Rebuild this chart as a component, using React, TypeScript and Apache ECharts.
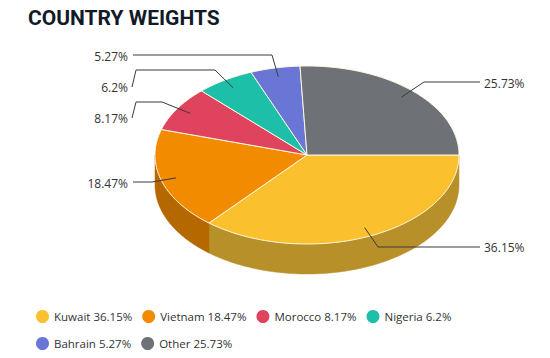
import React, { useEffect, useRef } from 'react';
import * as echarts from 'echarts';

// ---- data ----
const categories = ['Kuwait', 'Vietnam', 'Morocco', 'Nigeria', 'Bahrain', 'Other'];
const weights = [36.15, 18.47, 8.17, 6.2, 5.27, 25.73];
const valueLabels = ['36.15%', '18.47%', '8.17%', '6.2%', '5.27%', '25.73%'];

// ---- styles ----
const topColors = ['#fbc02d', '#f28b00', '#e0435d', '#1dbfa8', '#6a76d5', '#6e7175'];
const sideColors = ['#b8902a', '#b56800', '#a3304a', '#168d7c', '#4f589f', '#515458'];

// ---- layout ----
const PIE = { cx: 307, cy: 155, rx: 152, ry: 89, depth: 30 };
const LEFT_TEXT_X = 128;
const RIGHT_TEXT_X = 484;
const labelLayout = [
  { side: 'right', textY: 247, lineY: 247, elbowX: 378 },
  { side: 'left', textY: 183, lineY: 182, elbowX: 152 },
  { side: 'left', textY: 118, lineY: 102, elbowX: 162 },
  { side: 'left', textY: 87, lineY: 70, elbowX: 215 },
  { side: 'left', textY: 56, lineY: 55, elbowX: 272 },
  { side: 'right', textY: 83, lineY: 82, elbowX: 424 },
];

const total = weights.reduce((a, b) => a + b, 0);
const startAngles: number[] = [];
{
  let acc = 0;
  weights.forEach((w) => {
    startAngles.push((acc / total) * Math.PI * 2);
    acc += w;
  });
}
const sweep = (i: number) => (weights[i] / total) * Math.PI * 2;

const pt = (a: number, r = 1, dy = 0): number[] => [
  PIE.cx + PIE.rx * r * Math.cos(a),
  PIE.cy + PIE.ry * r * Math.sin(a) + dy,
];

const arc = (a0: number, a1: number, dy = 0): number[][] => {
  const n = Math.max(2, Math.ceil(((a1 - a0) * 180) / Math.PI));
  const out: number[][] = [];
  for (let k = 0; k <= n; k++) out.push(pt(a0 + ((a1 - a0) * k) / n, 1, dy));
  return out;
};

export default function App() {
  const ref = useRef<HTMLDivElement>(null);
  useEffect(() => {
    document.body.style.margin = '0';
    const chart = echarts.init(ref.current!, undefined, { renderer: 'svg' });

    const sideSeries = {
      type: 'custom',
      coordinateSystem: 'none',
      silent: true,
      z: 1,
      data: weights.map((w, i) => [i, w]),
      renderItem: (params: any) => {
        const i = params.dataIndex;
        const a0 = startAngles[i];
        const a1 = a0 + sweep(i);
        const s = Math.max(a0, 0);
        const e = Math.min(a1, Math.PI);
        if (e <= s) return { type: 'group', children: [] };
        const top = arc(s, e, 0);
        const bottom = arc(s, e, PIE.depth).reverse();
        return {
          type: 'group',
          children: [
            {
              type: 'polygon',
              shape: { points: top.concat(bottom) },
              style: { fill: sideColors[i], stroke: sideColors[i], lineWidth: 0.5 },
            },
          ],
        };
      },
    };

    const topSeries = {
      type: 'custom',
      coordinateSystem: 'none',
      silent: true,
      z: 2,
      data: weights.map((w, i) => [i, w]),
      renderItem: (params: any) => {
        const i = params.dataIndex;
        const a0 = startAngles[i];
        const a1 = a0 + sweep(i);
        const pts = [[PIE.cx, PIE.cy]].concat(arc(a0, a1, 0));
        return {
          type: 'polygon',
          shape: { points: pts },
          style: { fill: topColors[i], stroke: 'rgba(255,250,225,0.95)', lineWidth: 1 },
        };
      },
    };

    const labelSeries = {
      type: 'custom',
      coordinateSystem: 'none',
      silent: true,
      z: 3,
      data: weights.map((w, i) => [i, w]),
      renderItem: (params: any) => {
        const i = params.dataIndex;
        const mid = startAngles[i] + sweep(i) / 2;
        const anchor = pt(mid, 0.9);
        const L = labelLayout[i];
        const pts: number[][] = [anchor, [L.elbowX, L.lineY]];
        let tx: number;
        let align: string;
        if (L.side === 'left') {
          tx = LEFT_TEXT_X;
          align = 'right';
          if (Math.abs(L.lineY - L.textY) > 3) {
            pts.push([LEFT_TEXT_X + 8, L.lineY]);
            pts.push([LEFT_TEXT_X + 4, L.textY]);
          } else {
            pts.push([LEFT_TEXT_X + 5, L.lineY]);
          }
        } else {
          tx = RIGHT_TEXT_X;
          align = 'left';
          pts.push([RIGHT_TEXT_X - 4, L.lineY]);
        }
        return {
          type: 'group',
          children: [
            {
              type: 'polyline',
              shape: { points: pts },
              style: { stroke: '#3a3a3a', lineWidth: 1, fill: null },
            },
            {
              type: 'text',
              x: tx,
              y: L.textY,
              style: {
                text: valueLabels[i],
                fill: '#333333',
                fontSize: 12,
                fontFamily: 'Open Sans',
                align,
                verticalAlign: 'middle',
              },
            },
          ],
        };
      },
    };

    const legendPie = {
      type: 'pie',
      radius: 0,
      center: ['50%', '50%'],
      silent: true,
      label: { show: false },
      labelLine: { show: false },
      data: categories.map((c, i) => ({ name: c, value: weights[i], itemStyle: { color: topColors[i] } })),
    };

    chart.setOption({
      animation: false,
      backgroundColor: '#ffffff',
      title: {
        text: 'COUNTRY WEIGHTS',
        left: 23,
        top: 2,
        textStyle: { fontFamily: 'Roboto', fontWeight: 'bold', fontSize: 21, color: '#111b28' },
      },
      legend: {
        left: 31,
        top: 303,
        width: 500,
        icon: 'circle',
        itemWidth: 13,
        itemHeight: 13,
        itemGap: 10,
        data: categories,
        formatter: (name: string) => `${name} ${valueLabels[categories.indexOf(name)]}`,
        textStyle: { fontFamily: 'Open Sans', fontSize: 11.5, color: '#333333', height: 17, lineHeight: 17 },
      },
      series: [legendPie, sideSeries, topSeries, labelSeries],
    });
    return () => chart.dispose();
  }, []);
  return <div ref={ref} style={{ width: 550, height: 358 }} />;
}
